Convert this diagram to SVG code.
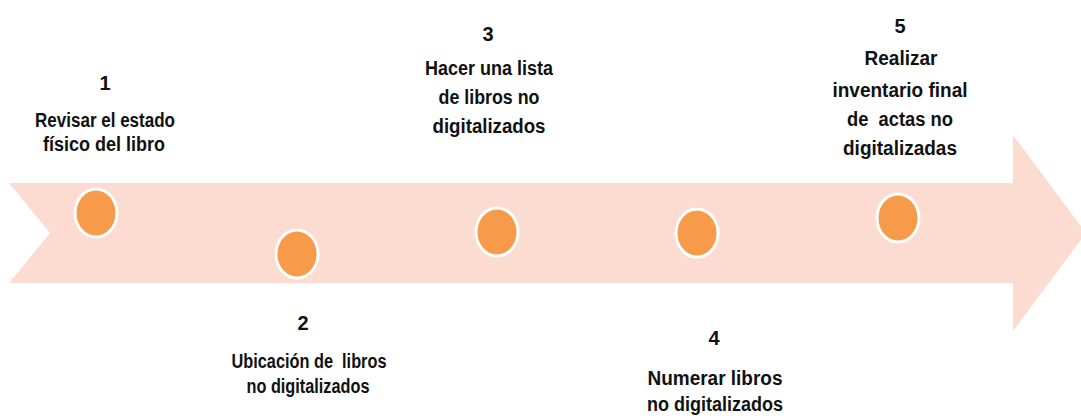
<svg xmlns="http://www.w3.org/2000/svg" width="1081" height="418" viewBox="0 0 1081 418">
<style>
.t{font-family:"Liberation Sans Narrow","Liberation Sans",Arial,sans-serif;font-weight:bold;font-size:20px;fill:#111;text-anchor:middle;white-space:pre}
.dot{fill:#f79a4a;stroke:#fff;stroke-width:3}
</style>
<rect width="1081" height="418" fill="#fff"/>
<g id="band">
<path d="M9,183 L1013,183 L1013,135 L1086,233 L1013,331 L1013,283 L9,283 L50,233 Z" fill="#fcdcd0"/>
</g>
<g id="connectors"></g>
<g id="node1">
<ellipse class="dot" cx="96" cy="213" rx="21" ry="24"/>
<text class="t" x="105" y="90">1</text>
<text class="t" x="105" y="127" textLength="140" lengthAdjust="spacingAndGlyphs">Revisar el estado</text>
<text class="t" x="104" y="151" textLength="122" lengthAdjust="spacingAndGlyphs">físico del libro</text>
</g>
<g id="node2">
<ellipse class="dot" cx="297" cy="254" rx="21" ry="24"/>
<text class="t" x="303" y="330">2</text>
<text class="t" x="309" y="368" textLength="155" lengthAdjust="spacingAndGlyphs" xml:space="preserve">Ubicación de  libros</text>
<text class="t" x="308" y="393" textLength="123" lengthAdjust="spacingAndGlyphs">no digitalizados</text>
</g>
<g id="node3">
<ellipse class="dot" cx="497" cy="232" rx="21" ry="24"/>
<text class="t" x="488" y="41">3</text>
<text class="t" x="489" y="75" textLength="128" lengthAdjust="spacingAndGlyphs">Hacer una lista</text>
<text class="t" x="489" y="104" textLength="101" lengthAdjust="spacingAndGlyphs">de libros no</text>
<text class="t" x="489" y="133" textLength="113" lengthAdjust="spacingAndGlyphs">digitalizados</text>
</g>
<g id="node4">
<ellipse class="dot" cx="697" cy="233" rx="21" ry="24"/>
<text class="t" x="714" y="345">4</text>
<text class="t" x="715" y="385" textLength="135" lengthAdjust="spacingAndGlyphs">Numerar libros</text>
<text class="t" x="715" y="411" textLength="136" lengthAdjust="spacingAndGlyphs">no digitalizados</text>
</g>
<g id="node5">
<ellipse class="dot" cx="898" cy="218" rx="21" ry="24"/>
<text class="t" x="900" y="33">5</text>
<text class="t" x="901" y="65" textLength="73" lengthAdjust="spacingAndGlyphs">Realizar</text>
<text class="t" x="900" y="97" textLength="135" lengthAdjust="spacingAndGlyphs">inventario final</text>
<text class="t" x="900" y="126" textLength="106" lengthAdjust="spacingAndGlyphs" xml:space="preserve">de  actas no</text>
<text class="t" x="900" y="155" textLength="114" lengthAdjust="spacingAndGlyphs">digitalizadas</text>
</g>
</svg>
